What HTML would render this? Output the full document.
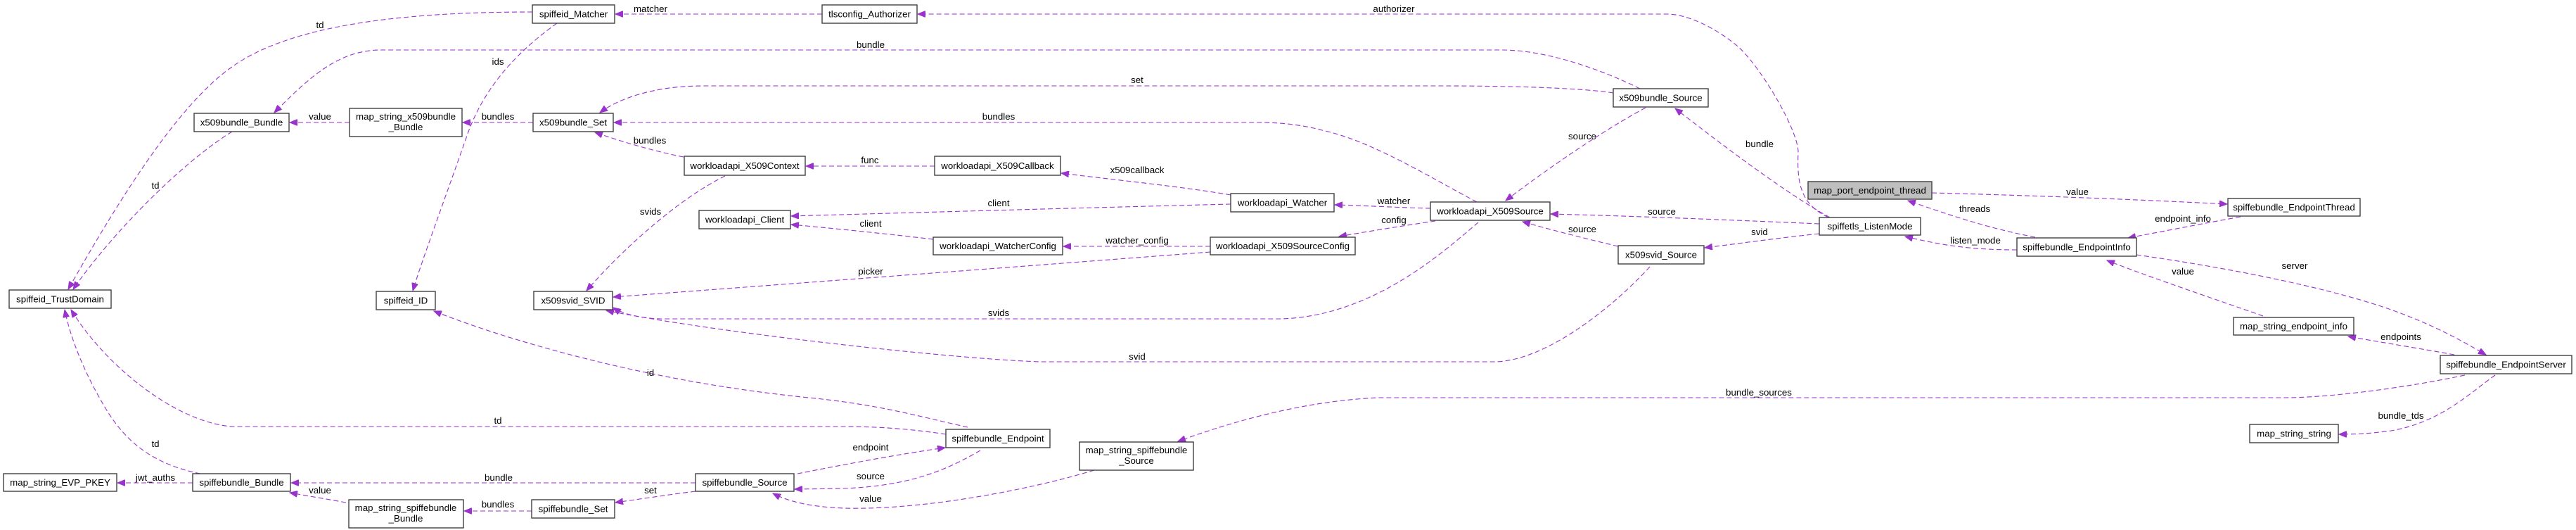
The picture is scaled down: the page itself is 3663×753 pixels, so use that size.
<!DOCTYPE html>
<html><head><meta charset="utf-8"><style>
html,body{margin:0;padding:0;background:#fff;}
svg{display:block;}
text{font-family:"Liberation Sans",Arial,sans-serif;font-size:13.3px;fill:#000;}
.n{fill:#fff;stroke:#404040;stroke-width:1.4;}
.e{fill:none;stroke:#9a32cd;stroke-width:1.1;stroke-dasharray:7,4;marker-end:url(#ah);}
</style></head><body>
<svg width="3663" height="753" viewBox="0 0 3663 753" xmlns="http://www.w3.org/2000/svg">
<defs><marker id="ah" markerWidth="12" markerHeight="9" refX="11" refY="4.5" orient="auto" markerUnits="userSpaceOnUse"><path d="M0,0 L11,4.5 L0,9 z" fill="#9a32cd" stroke="#9a32cd"/></marker></defs>

<!-- edges -->
<path class="e" d="M757,17 C600,17 420,30 330,95 C250,150 160,300 97,411"/>
<path class="e" d="M2332,126 C2280,100 2200,71 2136,71 L540,71 C480,72 440,110 390,160"/>
<path class="e" d="M330,187 C260,230 160,330 104,411"/>
<path class="e" d="M497,174 L412,174"/>
<path class="e" d="M758,174 L658,174"/>
<path class="e" d="M792,33 C740,70 690,120 665,190 C630,290 600,370 587,413"/>
<path class="e" d="M1169,20 L875,20"/>
<path class="e" d="M2600,309 C2560,290 2555,260 2557,215 C2555,180 2500,90 2470,65 C2440,40 2400,20 2370,20 L1305,20"/>
<path class="e" d="M2294,132 C2250,125 2150,122 2050,122 L1000,122 C930,122 880,140 853,160"/>
<path class="e" d="M2100,287 C2030,250 1950,200 1880,185 C1850,177 1820,174 1790,174 L873,174"/>
<path class="e" d="M972,223 C930,215 880,200 846,188"/>
<path class="e" d="M1329,236 L1146,236"/>
<path class="e" d="M1031,250 C960,285 880,360 834,413"/>
<path class="e" d="M1750,277 C1680,265 1580,255 1509,246"/>
<path class="e" d="M1750,290 C1550,295 1300,302 1125,307"/>
<path class="e" d="M1327,340 C1260,332 1180,324 1125,319"/>
<path class="e" d="M1721,350 L1512,350"/>
<path class="e" d="M1721,358 C1500,375 1100,405 872,422"/>
<path class="e" d="M2034,296 C1990,295 1940,292 1898,291"/>
<path class="e" d="M2041,314 C2000,320 1950,328 1904,336"/>
<path class="e" d="M2102,316 C2050,360 1950,450 1820,453 L940,453 C910,452 885,446 872,437"/>
<path class="e" d="M2346,379 C2300,430 2200,514 2124,514 L1480,514 C1350,510 1000,470 862,441"/>
<path class="e" d="M1376,607 C1300,590 1250,575 1150,565 C900,540 700,475 617,442"/>
<path class="e" d="M1345,617 C1300,610 1250,606 1200,606 L330,606 C250,600 150,520 101,440"/>
<path class="e" d="M285,673 C220,660 180,630 150,580 C120,530 100,480 92,440"/>
<path class="e" d="M274,686 L167,686"/>
<path class="e" d="M989,686 L414,686"/>
<path class="e" d="M492,714 C470,710 440,705 412,700"/>
<path class="e" d="M756,726 L660,726"/>
<path class="e" d="M989,698 C950,703 910,709 875,714"/>
<path class="e" d="M1134,673 C1200,660 1280,645 1344,636"/>
<path class="e" d="M1394,640 C1350,665 1300,690 1200,694 L1130,695"/>
<path class="e" d="M1556,668 C1450,700 1300,725 1200,722 C1150,720 1120,712 1099,701"/>
<path class="e" d="M3505,533 C3400,555 3300,565 3250,565 L1960,565 C1850,570 1750,600 1675,627"/>
<path class="e" d="M2602,309 C2550,280 2480,230 2382,154"/>
<path class="e" d="M2587,318 C2450,312 2320,307 2205,304"/>
<path class="e" d="M2301,350 C2250,338 2200,325 2165,315"/>
<path class="e" d="M2340,153 C2280,185 2200,240 2141,285"/>
<path class="e" d="M2587,332 C2530,338 2480,345 2424,352"/>
<path class="e" d="M2894,337 C2830,325 2770,305 2713,285"/>
<path class="e" d="M2868,355 C2800,355 2760,348 2709,336"/>
<path class="e" d="M2747,274 C2900,278 3050,284 3167,290"/>
<path class="e" d="M3186,308 C3130,318 3080,328 3026,338"/>
<path class="e" d="M3218,449 C3150,425 3060,395 2996,370"/>
<path class="e" d="M3038,362 C3150,378 3300,405 3400,440 C3470,465 3510,490 3535,504"/>
<path class="e" d="M3490,504 C3440,495 3390,487 3339,478"/>
<path class="e" d="M3548,533 C3510,560 3470,600 3400,612 C3370,616 3350,617 3326,617"/>

<!-- edge labels -->
<g text-anchor="middle">
<text x="455" y="40">td</text>
<text x="1238" y="68">bundle</text>
<text x="221" y="268">td</text>
<text x="455" y="170">value</text>
<text x="708" y="170">bundles</text>
<text x="708" y="92">ids</text>
<text x="925" y="17">matcher</text>
<text x="1982" y="17">authorizer</text>
<text x="1617" y="118">set</text>
<text x="1420" y="170">bundles</text>
<text x="924" y="204">bundles</text>
<text x="1237" y="232">func</text>
<text x="925" y="305">svids</text>
<text x="1617" y="246">x509callback</text>
<text x="1420" y="293">client</text>
<text x="1238" y="322">client</text>
<text x="1617" y="346">watcher_config</text>
<text x="1238" y="390">picker</text>
<text x="1982" y="290">watcher</text>
<text x="1982" y="317">config</text>
<text x="1420" y="449">svids</text>
<text x="1617" y="511">svid</text>
<text x="925" y="534">id</text>
<text x="708" y="602">td</text>
<text x="221" y="635">td</text>
<text x="221" y="683">jwt_auths</text>
<text x="709" y="683">bundle</text>
<text x="455" y="701">value</text>
<text x="708" y="721">bundles</text>
<text x="925" y="701">set</text>
<text x="1238" y="640">endpoint</text>
<text x="1238" y="681">source</text>
<text x="1238" y="713">value</text>
<text x="2501" y="562">bundle_sources</text>
<text x="2502" y="209">bundle</text>
<text x="2363" y="305">source</text>
<text x="2250" y="330">source</text>
<text x="2250" y="198">source</text>
<text x="2502" y="334">svid</text>
<text x="2808" y="301">threads</text>
<text x="2809" y="346">listen_mode</text>
<text x="2954" y="277">value</text>
<text x="3104" y="315">endpoint_info</text>
<text x="3104" y="390">value</text>
<text x="3263" y="382">server</text>
<text x="3414" y="483">endpoints</text>
<text x="3414" y="595">bundle_tds</text>
</g>

<!-- nodes -->
<g text-anchor="middle">
<rect class="n" x="276" y="161" width="135" height="26"/><text x="343.5" y="178.5">x509bundle_Bundle</text>
<rect class="n" x="497" y="154" width="160" height="40"/><text x="577" y="170">map_string_x509bundle</text><text x="577" y="185">_Bundle</text>
<rect class="n" x="13" y="412" width="145" height="26"/><text x="85.5" y="429.5">spiffeid_TrustDomain</text>
<rect class="n" x="535" y="414" width="84" height="26"/><text x="577" y="431.5">spiffeid_ID</text>
<rect class="n" x="5" y="673" width="161" height="25"/><text x="85.5" y="690">map_string_EVP_PKEY</text>
<rect class="n" x="274" y="673" width="139" height="25"/><text x="343.5" y="690">spiffebundle_Bundle</text>
<rect class="n" x="496" y="710" width="163" height="40"/><text x="577" y="726">map_string_spiffebundle</text><text x="577" y="741">_Bundle</text>
<rect class="n" x="757" y="7" width="117" height="26"/><text x="815.5" y="24.5">spiffeid_Matcher</text>
<rect class="n" x="1169" y="7" width="135" height="26"/><text x="1236.5" y="24.5">tlsconfig_Authorizer</text>
<rect class="n" x="758" y="161" width="114" height="26"/><text x="815" y="178.5">x509bundle_Set</text>
<rect class="n" x="973" y="222" width="172" height="27"/><text x="1059" y="240">workloadapi_X509Context</text>
<rect class="n" x="994" y="299" width="130" height="26"/><text x="1059" y="316.5">workloadapi_Client</text>
<rect class="n" x="759" y="414" width="112" height="26"/><text x="815" y="431.5">x509svid_SVID</text>
<rect class="n" x="989" y="673" width="140" height="25"/><text x="1059" y="690">spiffebundle_Source</text>
<rect class="n" x="756" y="710" width="118" height="26"/><text x="815" y="727.5">spiffebundle_Set</text>
<rect class="n" x="1329" y="222" width="179" height="27"/><text x="1418.5" y="240">workloadapi_X509Callback</text>
<rect class="n" x="1750" y="275" width="147" height="26"/><text x="1823.5" y="292.5">workloadapi_Watcher</text>
<rect class="n" x="1327" y="337" width="184" height="25"/><text x="1419" y="354">workloadapi_WatcherConfig</text>
<rect class="n" x="1721" y="337" width="206" height="25"/><text x="1824" y="354">workloadapi_X509SourceConfig</text>
<rect class="n" x="1345" y="610" width="148" height="26"/><text x="1419" y="627.5">spiffebundle_Endpoint</text>
<rect class="n" x="1535" y="628" width="162" height="40"/><text x="1616" y="644">map_string_spiffebundle</text><text x="1616" y="659">_Source</text>
<rect class="n" x="2034" y="287" width="170" height="26"/><text x="2119" y="304.5">workloadapi_X509Source</text>
<rect class="n" x="2294" y="126" width="135" height="26"/><text x="2361.5" y="143.5">x509bundle_Source</text>
<rect class="n" x="2301" y="349" width="122" height="26"/><text x="2362" y="366.5">x509svid_Source</text>
<rect x="2571" y="258" width="176" height="25" fill="#bfbfbf" stroke="#404040" stroke-width="1.4"/><text x="2659" y="275">map_port_endpoint_thread</text>
<rect class="n" x="2587" y="309" width="144" height="25"/><text x="2659" y="326">spiffetls_ListenMode</text>
<rect class="n" x="2868" y="338" width="170" height="26"/><text x="2953" y="355.5">spiffebundle_EndpointInfo</text>
<rect class="n" x="3168" y="282" width="188" height="25"/><text x="3262" y="299">spiffebundle_EndpointThread</text>
<rect class="n" x="3176" y="451" width="171" height="25"/><text x="3261.5" y="468">map_string_endpoint_info</text>
<rect class="n" x="3470" y="505" width="187" height="26"/><text x="3563.5" y="522.5">spiffebundle_EndpointServer</text>
<rect class="n" x="3199" y="603" width="126" height="26"/><text x="3262" y="620.5">map_string_string</text>
</g>
</svg>
</body></html>
